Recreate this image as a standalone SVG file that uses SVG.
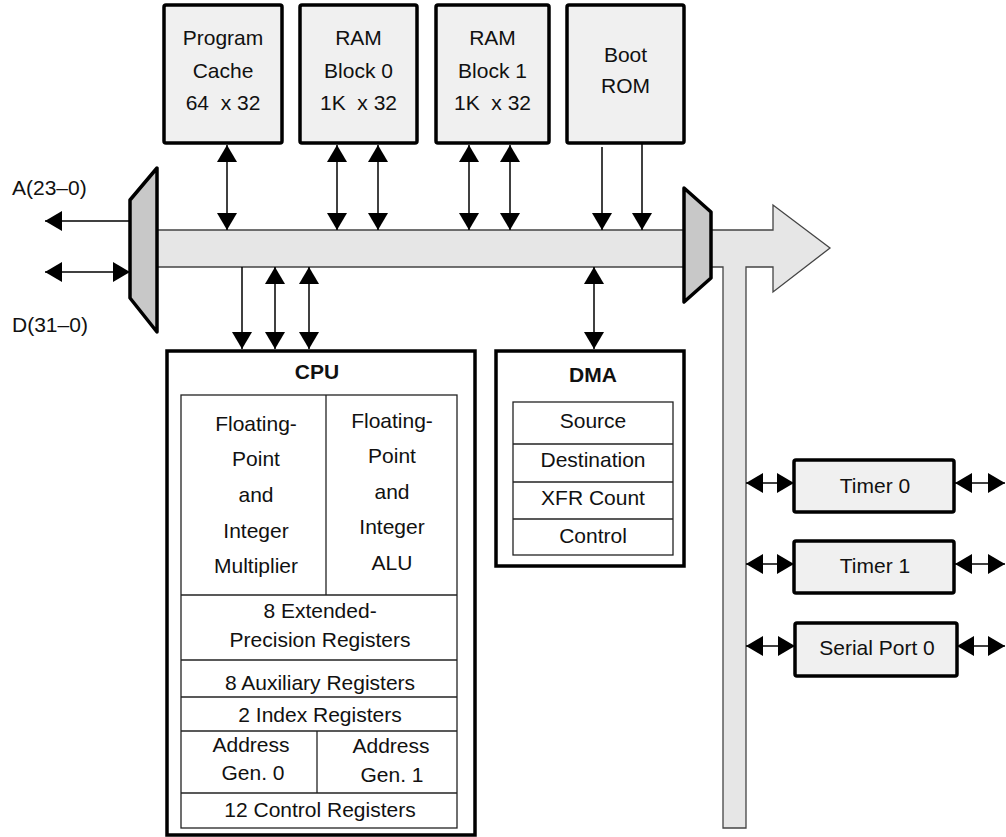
<svg xmlns="http://www.w3.org/2000/svg" width="1006" height="837" viewBox="0 0 1006 837">
<style>
text{font-family:"Liberation Sans",Arial,sans-serif;font-size:21px;fill:#111;text-anchor:middle;white-space:pre}
.b{font-weight:bold}
.l{text-anchor:start}
.top{fill:#f0f0f0;stroke:#000;stroke-width:3.5}
.big{fill:#fff;stroke:#000;stroke-width:3.5}
.in{fill:none;stroke:#222;stroke-width:1.3}
.mux{fill:#c8c8c8;stroke:#000;stroke-width:3.5;stroke-linejoin:round}
.bus{fill:#e6e6e6;stroke:#444;stroke-width:1.3}
.ar{stroke:#000;stroke-width:1.5;fill:none}
</style>
<defs>
<marker id="ah" viewBox="0 0 17 20" refX="17" refY="10" markerWidth="17" markerHeight="20" markerUnits="userSpaceOnUse" orient="auto-start-reverse">
<path d="M0,0 L17,10 L0,20 z" fill="#000"/>
</marker>
</defs>

<g id="bus">
<polygon class="bus" points="157,230 773,230 773,205 830,248 773,292 773,267 746,267 746,828 723,828 723,267 157,267"/>
</g>
<g id="mux-left"><polygon class="mux" points="130,200 157,168 157,332 130,298"/></g>
<g id="mux-right"><polygon class="mux" points="684,188 711,212 711,278 684,302"/></g>

<g id="connectors">
<line class="ar" x1="130" y1="221" x2="45" y2="221" marker-end="url(#ah)"/>
<line class="ar" x1="45" y1="272" x2="130" y2="272" marker-start="url(#ah)" marker-end="url(#ah)"/>
<line class="ar" x1="227" y1="145" x2="227" y2="230" marker-start="url(#ah)" marker-end="url(#ah)"/>
<line class="ar" x1="337" y1="145" x2="337" y2="230" marker-start="url(#ah)" marker-end="url(#ah)"/>
<line class="ar" x1="378" y1="145" x2="378" y2="230" marker-start="url(#ah)" marker-end="url(#ah)"/>
<line class="ar" x1="469" y1="145" x2="469" y2="230" marker-start="url(#ah)" marker-end="url(#ah)"/>
<line class="ar" x1="510" y1="145" x2="510" y2="230" marker-start="url(#ah)" marker-end="url(#ah)"/>
<line class="ar" x1="602" y1="147" x2="602" y2="230" marker-end="url(#ah)"/>
<line class="ar" x1="642" y1="144" x2="642" y2="230" marker-end="url(#ah)"/>
<line class="ar" x1="242" y1="267" x2="242" y2="349" marker-end="url(#ah)"/>
<line class="ar" x1="275" y1="267" x2="275" y2="349" marker-start="url(#ah)" marker-end="url(#ah)"/>
<line class="ar" x1="309" y1="267" x2="309" y2="349" marker-start="url(#ah)" marker-end="url(#ah)"/>
<line class="ar" x1="594" y1="267" x2="594" y2="349" marker-start="url(#ah)" marker-end="url(#ah)"/>
<line class="ar" x1="746" y1="483" x2="794" y2="483" marker-start="url(#ah)" marker-end="url(#ah)"/>
<line class="ar" x1="955" y1="483" x2="1005" y2="483" marker-start="url(#ah)" marker-end="url(#ah)"/>
<line class="ar" x1="746" y1="564" x2="794" y2="564" marker-start="url(#ah)" marker-end="url(#ah)"/>
<line class="ar" x1="955" y1="564" x2="1005" y2="564" marker-start="url(#ah)" marker-end="url(#ah)"/>
<line class="ar" x1="746" y1="646" x2="795" y2="646" marker-start="url(#ah)" marker-end="url(#ah)"/>
<line class="ar" x1="957" y1="646" x2="1005" y2="646" marker-start="url(#ah)" marker-end="url(#ah)"/>
</g>

<g id="label-a"><text class="l" x="12" y="195">A(23–0)</text></g>
<g id="label-d"><text class="l" x="12" y="332">D(31–0)</text></g>

<g id="program-cache">
<rect class="top" x="164" y="5" width="118" height="138" rx="2"/>
<text x="223" y="45">Program</text>
<text x="223" y="78">Cache</text>
<text x="223" y="110">64  x 32</text>
</g>
<g id="ram-block-0">
<rect class="top" x="300" y="5" width="117" height="138" rx="2"/>
<text x="358.5" y="45">RAM</text>
<text x="358.5" y="78">Block 0</text>
<text x="358.5" y="110">1K  x 32</text>
</g>
<g id="ram-block-1">
<rect class="top" x="436" y="5" width="113" height="138" rx="2"/>
<text x="492.5" y="45">RAM</text>
<text x="492.5" y="78">Block 1</text>
<text x="492.5" y="110">1K  x 32</text>
</g>
<g id="boot-rom">
<rect class="top" x="567" y="5" width="117" height="138" rx="2"/>
<text x="625.5" y="62">Boot</text>
<text x="625.5" y="93">ROM</text>
</g>

<g id="cpu">
<rect class="big" x="167" y="351" width="308" height="484"/>
<text class="b" x="317" y="379">CPU</text>
<rect class="in" x="181" y="395" width="276" height="433"/>
<line class="in" x1="326" y1="395" x2="326" y2="595"/>
<line class="in" x1="181" y1="595" x2="457" y2="595"/>
<line class="in" x1="181" y1="660" x2="457" y2="660"/>
<line class="in" x1="181" y1="697" x2="457" y2="697"/>
<line class="in" x1="181" y1="731" x2="457" y2="731"/>
<line class="in" x1="317" y1="731" x2="317" y2="793"/>
<line class="in" x1="181" y1="793" x2="457" y2="793"/>
<text x="256" y="431">Floating-</text>
<text x="256" y="466">Point</text>
<text x="256" y="502">and</text>
<text x="256" y="538">Integer</text>
<text x="256" y="573">Multiplier</text>
<text x="392" y="428">Floating-</text>
<text x="392" y="463">Point</text>
<text x="392" y="499">and</text>
<text x="392" y="534">Integer</text>
<text x="392" y="570">ALU</text>
<text x="320" y="618">8 Extended-</text>
<text x="320" y="647">Precision Registers</text>
<text x="320" y="690">8 Auxiliary Registers</text>
<text x="320" y="722">2 Index Registers</text>
<text x="251" y="752">Address</text>
<text x="253" y="780">Gen. 0</text>
<text x="391" y="753">Address</text>
<text x="392" y="782">Gen. 1</text>
<text x="320" y="817">12 Control Registers</text>
</g>

<g id="dma">
<rect class="big" x="496" y="351" width="188" height="215"/>
<text class="b" x="593" y="382">DMA</text>
<rect class="in" x="513" y="402" width="160" height="153"/>
<line class="in" x1="513" y1="444" x2="673" y2="444"/>
<line class="in" x1="513" y1="482" x2="673" y2="482"/>
<line class="in" x1="513" y1="519" x2="673" y2="519"/>
<text x="593" y="428">Source</text>
<text x="593" y="467">Destination</text>
<text x="593" y="505">XFR Count</text>
<text x="593" y="543">Control</text>
</g>

<g id="timer-0">
<rect class="top" x="794" y="460" width="160" height="52" rx="2"/>
<text x="875" y="493">Timer 0</text>
</g>
<g id="timer-1">
<rect class="top" x="794" y="541" width="160" height="52" rx="2"/>
<text x="875" y="573">Timer 1</text>
</g>
<g id="serial-port-0">
<rect class="top" x="795" y="623" width="162" height="53" rx="2"/>
<text x="877" y="655">Serial Port 0</text>
</g>
</svg>
